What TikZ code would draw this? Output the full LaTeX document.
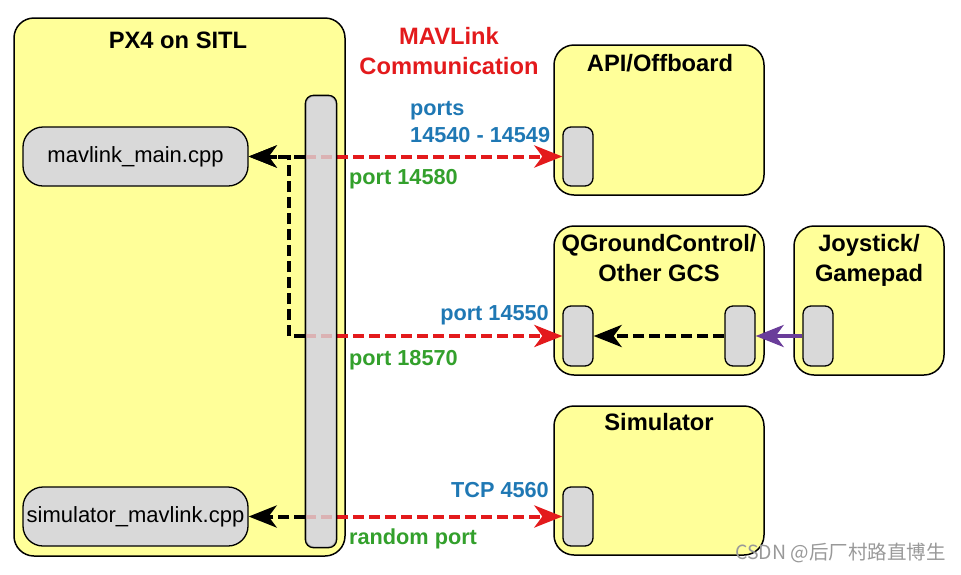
\documentclass[tikz,border=0pt]{standalone}
\usepackage{fontspec}
\setmainfont{Liberation Sans}
\newfontfamily\cjk{Noto Sans CJK SC}
\usetikzlibrary{arrows.meta}
\definecolor{boxyellow}{HTML}{FFFF99}
\definecolor{portgray}{HTML}{D9D9D9}
\definecolor{mred}{HTML}{E31A1C}
\definecolor{mblue}{HTML}{1F78B4}
\definecolor{mgreen}{HTML}{33A02C}
\definecolor{mpurple}{HTML}{6A3D9A}
\tikzset{
  bigbox/.style={draw, line width=1.5pt, fill=boxyellow, rounded corners=20pt, inner sep=0pt},
  portbox/.style={draw, line width=1.3pt, fill=portgray, rounded corners=8pt, inner sep=0pt, minimum width=30pt, minimum height=59pt},
  filebox/.style={draw, line width=1.3pt, fill=portgray, rounded corners=20pt, inner sep=0pt, minimum width=225pt, minimum height=59pt, font=\fontsize{22}{26}\selectfont},
  titletext/.style={anchor=base, inner sep=0pt, font=\fontsize{23.7}{28}\selectfont\bfseries},
  lbl/.style={inner sep=0pt, font=\fontsize{21.7}{26}\selectfont\bfseries},
  redarr/.style={draw=mred, line width=4pt, dash pattern=on 11pt off 5pt, -{Stealth[length=28pt,width=22pt,inset=8pt]}},
  blackarr/.style={draw=black, line width=4pt, dash pattern=on 11pt off 5pt, -{Stealth[length=28pt,width=22pt,inset=8pt]}},
  purparr/.style={draw=mpurple, line width=4pt, -{Stealth[length=28pt,width=22pt,inset=8pt]}},
}
\begin{document}
\begin{tikzpicture}[x=1pt,y=-1pt]
\useasboundingbox (0,0) rectangle (961,574);
% PX4 box
\node[bigbox, minimum width=331pt, minimum height=538pt] (px4) at (179.5,287) {};
\node[titletext] (px4t) at (178,48.5) {PX4 on SITL};
\node[portbox, minimum height=451pt] (bar) at (321,321.5) {};
\node[filebox] (mavmain) at (135.5,156.5) {mavlink\_main.cpp};
\node[filebox] (simmav) at (135.5,516.5) {simulator\_mavlink.cpp};
% MAVLink title
\node[titletext, text=mred] (mavt1) at (449,44.5) {MAVLink};
\node[titletext, text=mred] (mavt2) at (449,74.5) {Communication};
% API
\node[bigbox, minimum width=210pt, minimum height=150pt] (api) at (659,120) {};
\node[titletext] (apit) at (660,71.5) {API/Offboard};
\node[portbox] (apiport) at (578,156.5) {};
% QGC
\node[bigbox, minimum width=210pt, minimum height=149pt] (qgc) at (659,300.5) {};
\node[titletext] (qgct1) at (659,251.5) {QGroundControl/};
\node[titletext] (qgct2) at (659,281.5) {Other GCS};
\node[portbox, minimum height=60pt] (qgcport) at (578,336) {};
\node[portbox, minimum height=60pt] (qgcport2) at (740,336) {};
% Joystick
\node[bigbox, minimum width=150pt, minimum height=149pt] (joy) at (869,300.5) {};
\node[titletext] (joyt1) at (869,251.5) {Joystick/};
\node[titletext] (joyt2) at (869,281.5) {Gamepad};
\node[portbox, minimum height=60pt] (joyport) at (818,336) {};
% Simulator
\node[bigbox, minimum width=210pt, minimum height=149pt] (sim) at (659,480.5) {};
\node[titletext] (simt) at (659,430.5) {Simulator};
\node[portbox] (simport) at (578,516.5) {};
% connectors
\draw[redarr] (bar.west |- apiport.west) -- (apiport.west);
\draw[redarr] (bar.west |- qgcport.west) -- (qgcport.west);
\draw[redarr] (bar.west |- simport.west) -- (simport.west);
% bar overlay (red shows through faintly)
\fill[portgray, fill opacity=0.8, rounded corners=8pt] (bar.south west) rectangle (bar.north east);
\draw[line width=1.3pt, rounded corners=8pt] (bar.south west) rectangle (bar.north east);
\draw[blackarr] (bar.west |- mavmain.east) -- (mavmain.east);
\draw[blackarr] (bar.west |- qgcport.west) -- ++(-16,0) |- (mavmain.east);
\draw[blackarr] (bar.west |- simmav.east) -- (simmav.east);
\draw[blackarr] (qgcport2.west) -- (qgcport.east);
\draw[purparr] (joyport.west) -- (qgcport2.east);
% labels
\node[lbl, text=mblue, anchor=base west] (l1) at (410,115) {ports};
\node[lbl, text=mblue, anchor=base west] (l2) at (410,142) {14540 - 14549};
\node[lbl, text=mgreen, anchor=base west] (l3) at (349,184) {port 14580};
\node[lbl, text=mblue, anchor=base east] (l4) at (549,320) {port 14550};
\node[lbl, text=mgreen, anchor=base west] (l5) at (349,365) {port 18570};
\node[lbl, text=mblue, anchor=base east] (l6) at (549,497) {TCP 4560};
\node[lbl, text=mgreen, anchor=base west] (l7) at (349,544) {random port};
% watermark
\node[anchor=base east, inner sep=0pt, text=black!40, font=\cjk\fontsize{19.5}{22}\selectfont] (wm) at (946,559) {CSDN @后厂村路直博生};
\end{tikzpicture}
\end{document}
